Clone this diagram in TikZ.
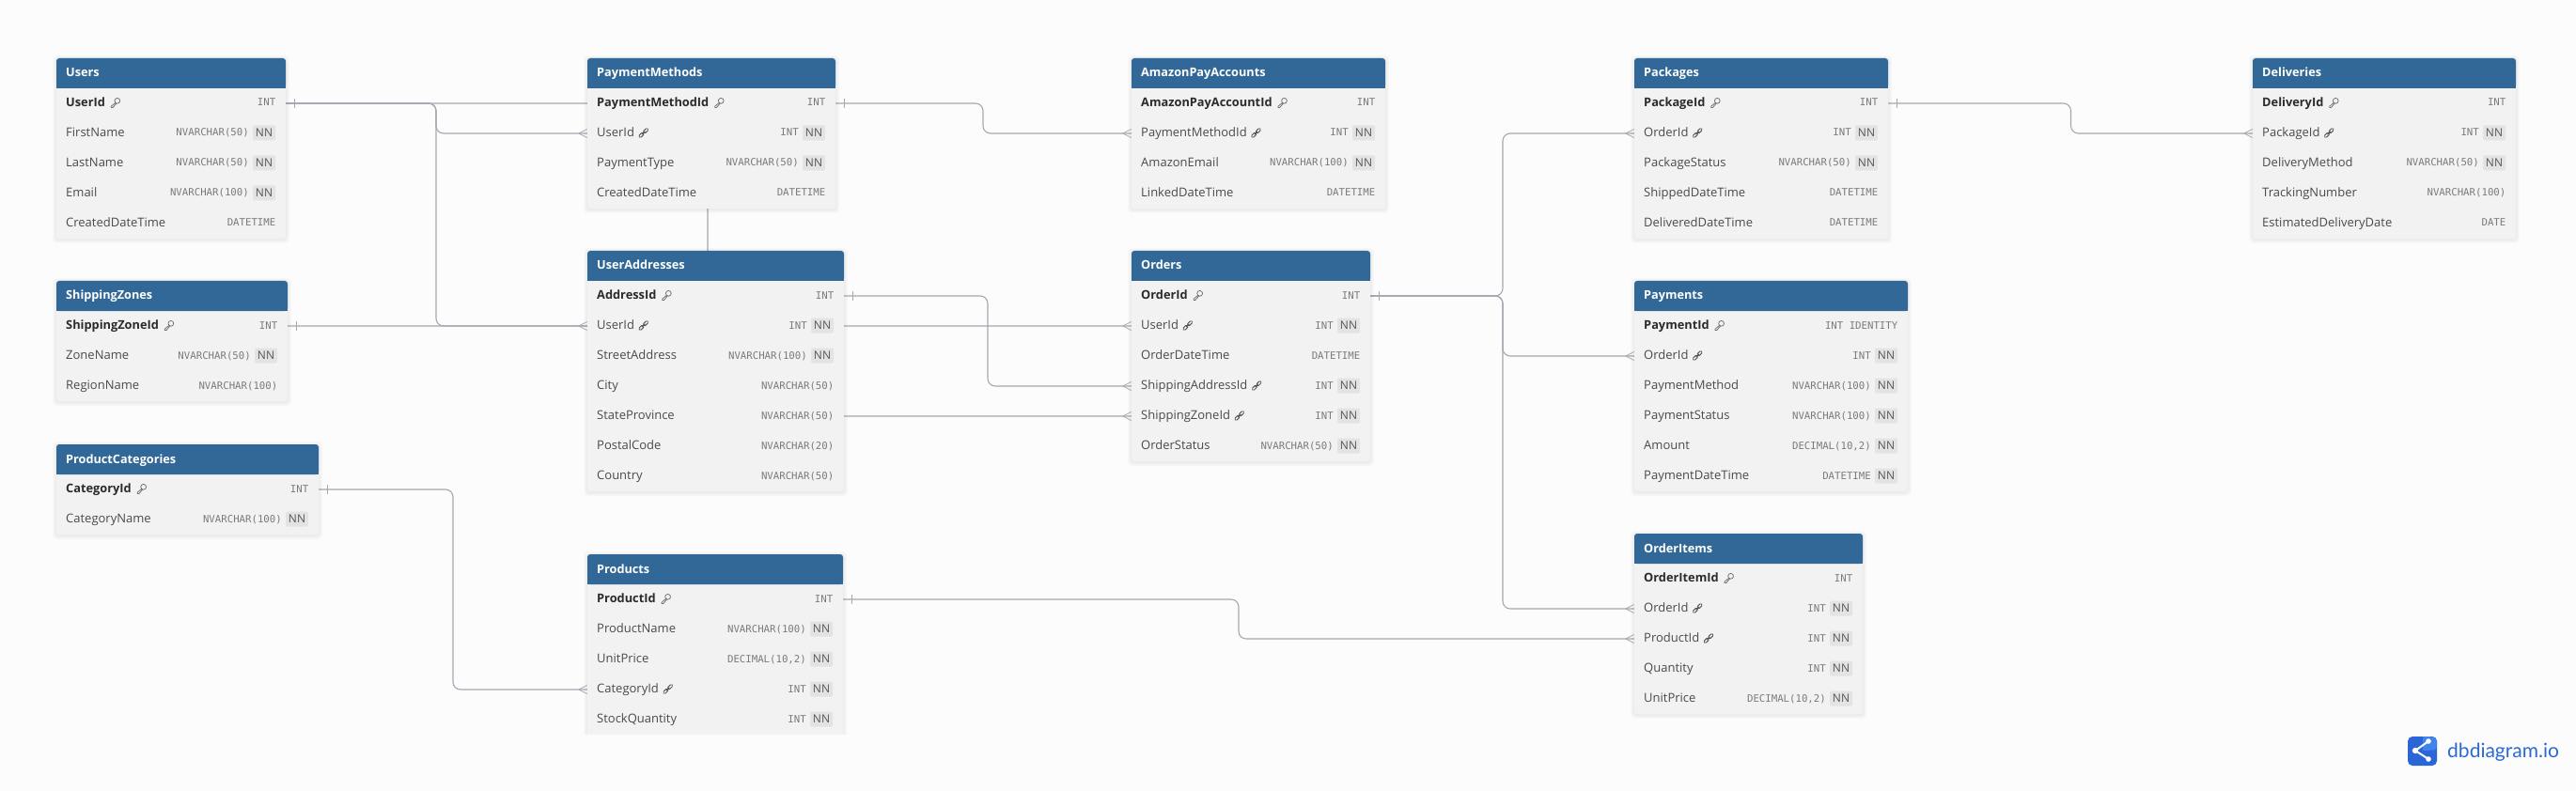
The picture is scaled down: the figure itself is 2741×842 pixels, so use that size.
\documentclass[tikz,border=0pt]{standalone}
\usepackage{fontspec}
\setmainfont{Open Sans}
\setmonofont{DejaVu Sans Mono}
\newfontfamily\logofont{Lato}
\usetikzlibrary{calc}
\pgfdeclarelayer{back}
\pgfsetlayers{back,main}
\definecolor{bgc}{HTML}{FCFCFC}
\definecolor{hdrc}{HTML}{316897}
\definecolor{bodyc}{HTML}{F2F2F2}
\definecolor{badgec}{HTML}{E3E3E3}
\definecolor{relc}{HTML}{A6A6B0}
\definecolor{namec}{HTML}{4A4A4A}
\definecolor{pkc}{HTML}{2B2B2B}
\definecolor{typec}{HTML}{7A7A7A}
\definecolor{nnc}{HTML}{555555}
\definecolor{logoa}{HTML}{2A66D6}
\definecolor{logob}{HTML}{3F84EC}
\definecolor{logot}{HTML}{2C6AD2}
\tikzset{
  x=1pt,y=-1pt,
  titlestyle/.style={anchor=base west,inner sep=0,text=white,font=\fontsize{12.7}{14}\selectfont\bfseries},
  rowstyle/.style={inner sep=0,minimum height=32pt},
  namestyle/.style={anchor=base west,inner sep=0,text=namec,font=\fontsize{13}{15}\selectfont},
  pkstyle/.style={anchor=base west,inner sep=0,text=pkc,font=\fontsize{12.8}{15}\selectfont\bfseries},
  typestyle/.style={anchor=base east,inner sep=0,text=typec,font=\fontsize{10.7}{13}\selectfont\ttfamily},
  nnstyle/.style={inner sep=0,minimum width=24pt,minimum height=16pt,fill=badgec,rounded corners=2pt,text=nnc,font=\fontsize{12}{13}\selectfont},
  rel/.style={draw=relc,line width=1.1pt,rounded corners=8pt},
  relmark/.style={draw=relc,line width=.8pt},
  pics/pkicon/.style={code={
    \draw[line width=.75pt,draw=typec!90!black,line join=round]
      (2.2,-2.2) circle[radius=2.9]
      (.2,-.1) -- (-4.3,3.6) -- (-4.3,5) -- (-2.6,5) -- (1.1,.6);
  }},
  pics/fkicon/.style={code={
    \draw[line width=3.6pt,draw=namec,line cap=round] (-3.6,3.6) -- (-.9,.9) (.9,-.9) -- (3.6,-3.6);
    \draw[line width=1.6pt,draw=bodyc,line cap=round] (-3.6,3.6) -- (-.9,.9) (.9,-.9) -- (3.6,-3.6);
    \draw[line width=1pt,draw=namec,line cap=round] (-1.4,1.4) -- (1.4,-1.4);
  }},
}
% #1 id, #2 title, #3 x1, #4 x2, #5 top, #6 rows: name/key(0,1,2)/type/nn(0,1)
\newcommand{\dbtable}[6]{%
  \pgfmathsetmacro{\tw}{#4-#3}%
  \pgfmathsetmacro{\tmx}{(#3+#4)/2}%
  \pgfmathsetmacro{\tbot}{#5+32}%
  \foreach \nm/\ky/\ty/\nnf [count=\rc] in {#6}{\global\let\trows\rc}%
  \pgfmathsetmacro{\tend}{#5+32+32*\trows}%
  \foreach \g in {4,3,2,1}{%
    \fill[black,opacity=.014,rounded corners=4pt] (#3-\g,#5-\g+1) rectangle (#4+\g,\tend+\g+1);
  }%
  \fill[bodyc,rounded corners=3pt] (#3,\tbot-6) rectangle (#4,\tend);
  \fill[hdrc,rounded corners=3pt] (#3,\tbot) |- (#4,#5) |- cycle;
  \fill[hdrc] (#3,\tbot-4) rectangle (#4,\tbot);
  \node[titlestyle] (#1-title) at (#3+10,#5+20) {#2};
  \foreach \nm/\ky/\ty/\nnf [count=\ri] in {#6}{%
    \pgfmathsetmacro{\rcy}{#5+32+32*(\ri-.5)}%
    \node[rowstyle,minimum width=\tw pt] (#1-\nm) at (\tmx,\rcy) {};
    \ifnum\ky=1
      \node[pkstyle] (#1-\nm-name) at (#3+10,\rcy+3.5) {\nm};
      \path ([xshift=10.5pt,yshift=4pt]#1-\nm-name.base east) pic {pkicon};
    \else
      \node[namestyle] (#1-\nm-name) at (#3+10,\rcy+3.5) {\nm};
      \ifnum\ky=2
        \path ([xshift=9.5pt,yshift=4pt]#1-\nm-name.base east) pic {fkicon};
      \fi
    \fi
    \ifnum\nnf=1
      \node[nnstyle] (#1-\nm-nn) at (#4-23,\rcy-.5) {NN};
      \node[typestyle] (#1-\nm-type) at (#4-39,\rcy+3) {\ty};
    \else
      \node[typestyle] (#1-\nm-type) at (#4-10.5,\rcy+3) {\ty};
    \fi
  }%
}
\newcommand{\onemark}[1]{\draw[relmark] ([xshift=9pt,yshift=5pt]#1) -- ([xshift=9pt,yshift=-5pt]#1);}
\newcommand{\manymark}[1]{\draw[relmark] ([xshift=-9pt]#1) -- ([yshift=4.5pt]#1) ([xshift=-9pt]#1) -- ([yshift=-4.5pt]#1);}
\begin{document}
\begin{tikzpicture}
\useasboundingbox (0,0) rectangle (2741,842);
\begin{pgfonlayer}{back}
\fill[bgc] (0,0) rectangle (2741,842);
\end{pgfonlayer}

\dbtable{Users}{Users}{60}{304}{62}{UserId/1/INT/0,FirstName/0/NVARCHAR(50)/1,LastName/0/NVARCHAR(50)/1,Email/0/NVARCHAR(100)/1,CreatedDateTime/0/DATETIME/0}
\dbtable{ShippingZones}{ShippingZones}{60}{306}{299}{ShippingZoneId/1/INT/0,ZoneName/0/NVARCHAR(50)/1,RegionName/0/NVARCHAR(100)/0}
\dbtable{ProductCategories}{ProductCategories}{60}{339}{473}{CategoryId/1/INT/0,CategoryName/0/NVARCHAR(100)/1}
\dbtable{PaymentMethods}{PaymentMethods}{625}{889}{62}{PaymentMethodId/1/INT/0,UserId/2/INT/1,PaymentType/0/NVARCHAR(50)/1,CreatedDateTime/0/DATETIME/0}
\dbtable{UserAddresses}{UserAddresses}{625}{898}{267}{AddressId/1/INT/0,UserId/2/INT/1,StreetAddress/0/NVARCHAR(100)/1,City/0/NVARCHAR(50)/0,StateProvince/0/NVARCHAR(50)/0,PostalCode/0/NVARCHAR(20)/0,Country/0/NVARCHAR(50)/0}
\dbtable{Products}{Products}{625}{897}{590}{ProductId/1/INT/0,ProductName/0/NVARCHAR(100)/1,UnitPrice/0/{DECIMAL(10,2)}/1,CategoryId/2/INT/1,StockQuantity/0/INT/1}
\fill[bodyc] (625,775) rectangle (897,782);
\fill[bgc] (615,782) rectangle (907,792);
\dbtable{AmazonPayAccounts}{AmazonPayAccounts}{1204}{1474}{62}{AmazonPayAccountId/1/INT/0,PaymentMethodId/2/INT/1,AmazonEmail/0/NVARCHAR(100)/1,LinkedDateTime/0/DATETIME/0}
\dbtable{Orders}{Orders}{1204}{1458}{267}{OrderId/1/INT/0,UserId/2/INT/1,OrderDateTime/0/DATETIME/0,ShippingAddressId/2/INT/1,ShippingZoneId/2/INT/1,OrderStatus/0/NVARCHAR(50)/1}
\dbtable{Packages}{Packages}{1739}{2009}{62}{PackageId/1/INT/0,OrderId/2/INT/1,PackageStatus/0/NVARCHAR(50)/1,ShippedDateTime/0/DATETIME/0,DeliveredDateTime/0/DATETIME/0}
\dbtable{Payments}{Payments}{1739}{2030}{299}{PaymentId/1/INT IDENTITY/0,OrderId/2/INT/1,PaymentMethod/0/NVARCHAR(100)/1,PaymentStatus/0/NVARCHAR(100)/1,Amount/0/{DECIMAL(10,2)}/1,PaymentDateTime/0/DATETIME/1}
\dbtable{OrderItems}{OrderItems}{1739}{1982}{568}{OrderItemId/1/INT/0,OrderId/2/INT/1,ProductId/2/INT/1,Quantity/0/INT/1,UnitPrice/0/{DECIMAL(10,2)}/1}
\dbtable{Deliveries}{Deliveries}{2397}{2677}{62}{DeliveryId/1/INT/0,PackageId/2/INT/1,DeliveryMethod/0/NVARCHAR(50)/1,TrackingNumber/0/NVARCHAR(100)/0,EstimatedDeliveryDate/0/DATE/0}

\begin{pgfonlayer}{back}
\draw[rel] (Users-UserId.east) -- (464,0 |- Users-UserId.east) -- (464,0 |- PaymentMethods-UserId.west) -- (PaymentMethods-UserId.west);
\draw[rel] (Users-UserId.east) -- (464,0 |- Users-UserId.east) -- (464,0 |- UserAddresses-UserId.west) -- (UserAddresses-UserId.west);
\draw[rel] (Users-UserId.east) -- (753,0 |- Users-UserId.east) -- (753,0 |- Orders-UserId.west) -- (Orders-UserId.west);
\draw[rel] (ShippingZones-ShippingZoneId.east) -- (753,0 |- ShippingZones-ShippingZoneId.east) -- (753,0 |- Orders-ShippingZoneId.west) -- (Orders-ShippingZoneId.west);
\draw[rel] (PaymentMethods-PaymentMethodId.east) -- (1046,0 |- PaymentMethods-PaymentMethodId.east) -- (1046,0 |- AmazonPayAccounts-PaymentMethodId.west) -- (AmazonPayAccounts-PaymentMethodId.west);
\draw[rel] (UserAddresses-AddressId.east) -- (1051,0 |- UserAddresses-AddressId.east) -- (1051,0 |- Orders-ShippingAddressId.west) -- (Orders-ShippingAddressId.west);
\draw[rel] (Orders-OrderId.east) -- (1599,0 |- Orders-OrderId.east) -- (1599,0 |- Packages-OrderId.west) -- (Packages-OrderId.west);
\draw[rel] (Orders-OrderId.east) -- (1599,0 |- Orders-OrderId.east) -- (1599,0 |- Payments-OrderId.west) -- (Payments-OrderId.west);
\draw[rel] (Orders-OrderId.east) -- (1599,0 |- Orders-OrderId.east) -- (1599,0 |- OrderItems-OrderId.west) -- (OrderItems-OrderId.west);
\draw[rel] (Packages-PackageId.east) -- (2203.5,0 |- Packages-PackageId.east) -- (2203.5,0 |- Deliveries-PackageId.west) -- (Deliveries-PackageId.west);
\draw[rel] (ProductCategories-CategoryId.east) -- (482,0 |- ProductCategories-CategoryId.east) -- (482,0 |- Products-CategoryId.west) -- (Products-CategoryId.west);
\draw[rel] (Products-ProductId.east) -- (1318,0 |- Products-ProductId.east) -- (1318,0 |- OrderItems-ProductId.west) -- (OrderItems-ProductId.west);
\end{pgfonlayer}

\onemark{Users-UserId.east}
\onemark{ShippingZones-ShippingZoneId.east}
\onemark{ProductCategories-CategoryId.east}
\onemark{PaymentMethods-PaymentMethodId.east}
\onemark{UserAddresses-AddressId.east}
\onemark{Products-ProductId.east}
\onemark{Orders-OrderId.east}
\onemark{Packages-PackageId.east}
\manymark{PaymentMethods-UserId.west}
\manymark{UserAddresses-UserId.west}
\manymark{Products-CategoryId.west}
\manymark{AmazonPayAccounts-PaymentMethodId.west}
\manymark{Orders-UserId.west}
\manymark{Orders-ShippingAddressId.west}
\manymark{Orders-ShippingZoneId.west}
\manymark{Packages-OrderId.west}
\manymark{Payments-OrderId.west}
\manymark{OrderItems-OrderId.west}
\manymark{OrderItems-ProductId.west}
\manymark{Deliveries-PackageId.west}

% logo
\fill[logoa,rounded corners=5pt] (2562,784) rectangle (2593,815);
\fill[logob,rounded corners=5pt] (2584,784) rectangle (2593,799);
\fill[logob] (2578,784) rectangle (2586,799);
\draw[white,line width=2pt] (2584,789) -- (2570,799) -- (2584,808);
\fill[white] (2570,799) circle[radius=3.2] (2584,789) circle[radius=2.8] (2584,808) circle[radius=2.8];
\node[anchor=base west,inner sep=0,text=logot,font=\logofont\fontsize{21}{24}\selectfont] (logo) at (2604,806) {dbdiagram.io};
\end{tikzpicture}
\end{document}
